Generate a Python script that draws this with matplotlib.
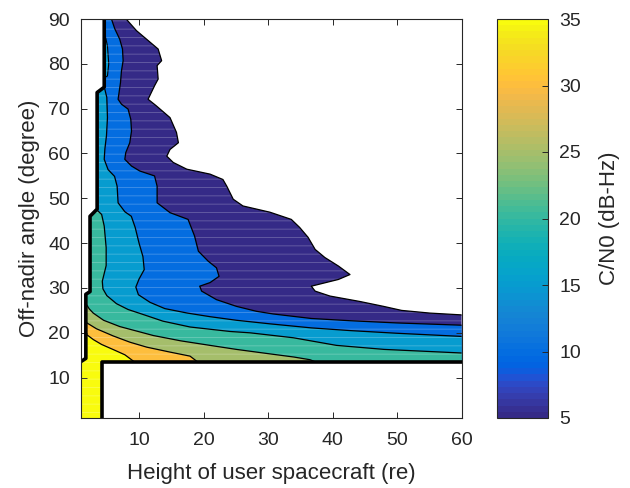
import matplotlib
matplotlib.use("Agg")
import matplotlib.pyplot as plt
from matplotlib.colors import ListedColormap, Normalize
from matplotlib.patches import Polygon
from matplotlib.cm import ScalarMappable

plt.rcParams['font.family'] = ['Liberation Sans', 'DejaVu Sans']
plt.rcParams['hatch.linewidth'] = 0.7

# 64-entry parula colormap
PARULA = [
    [0.2081, 0.1663, 0.5292], [0.2116, 0.1898, 0.5777], [0.2123, 0.2138, 0.6270], [0.2081, 0.2386, 0.6771],
    [0.1959, 0.2645, 0.7279], [0.1707, 0.2919, 0.7792], [0.1253, 0.3242, 0.8303], [0.0591, 0.3598, 0.8683],
    [0.0117, 0.3875, 0.8820], [0.0060, 0.4086, 0.8828], [0.0165, 0.4266, 0.8786], [0.0329, 0.4430, 0.8720],
    [0.0498, 0.4586, 0.8641], [0.0629, 0.4737, 0.8554], [0.0723, 0.4887, 0.8467], [0.0779, 0.5040, 0.8384],
    [0.0793, 0.5200, 0.8312], [0.0749, 0.5375, 0.8263], [0.0641, 0.5570, 0.8240], [0.0488, 0.5772, 0.8228],
    [0.0343, 0.5966, 0.8199], [0.0265, 0.6137, 0.8135], [0.0239, 0.6287, 0.8038], [0.0231, 0.6418, 0.7913],
    [0.0228, 0.6535, 0.7768], [0.0267, 0.6642, 0.7607], [0.0384, 0.6743, 0.7436], [0.0590, 0.6838, 0.7254],
    [0.0843, 0.6928, 0.7062], [0.1133, 0.7015, 0.6859], [0.1453, 0.7098, 0.6646], [0.1801, 0.7177, 0.6424],
    [0.2178, 0.7250, 0.6193], [0.2586, 0.7317, 0.5954], [0.3022, 0.7376, 0.5712], [0.3482, 0.7424, 0.5473],
    [0.3953, 0.7459, 0.5244], [0.4420, 0.7481, 0.5033], [0.4871, 0.7491, 0.4840], [0.5300, 0.7491, 0.4661],
    [0.5709, 0.7485, 0.4494], [0.6099, 0.7473, 0.4337], [0.6473, 0.7456, 0.4188], [0.6834, 0.7435, 0.4044],
    [0.7184, 0.7411, 0.3905], [0.7525, 0.7384, 0.3768], [0.7858, 0.7356, 0.3633], [0.8185, 0.7327, 0.3498],
    [0.8507, 0.7299, 0.3360], [0.8824, 0.7274, 0.3217], [0.9139, 0.7258, 0.3063], [0.9450, 0.7261, 0.2886],
    [0.9739, 0.7314, 0.2666], [0.9938, 0.7455, 0.2403], [0.9990, 0.7653, 0.2164], [0.9955, 0.7861, 0.1967],
    [0.9880, 0.8066, 0.1794], [0.9789, 0.8271, 0.1633], [0.9697, 0.8481, 0.1475], [0.9626, 0.8705, 0.1309],
    [0.9589, 0.8949, 0.1132], [0.9598, 0.9218, 0.0948], [0.9661, 0.9514, 0.0755], [0.9763, 0.9831, 0.0538],
]

# C/N0 contour levels (dB-Hz)
levels = [5, 10, 15, 20, 25, 30, 35]

# Contour lines: height (re) and off-nadir angle (deg) along each level
c05_h = [8.0, 9.6, 12.96, 13.5, 12.8, 12.96, 12.4, 11.4, 12.7, 14.8, 15.8, 16.1, 14.8, 14.3, 15.3, 17.4,
         21.0, 23.0, 23.6, 24.6, 26.1, 30.3, 33.6, 34.9, 36.2, 37.3, 38.8, 40.9, 42.7, 40.9, 36.7, 37.3,
         39.6, 44.2, 47.9, 50.7, 55.1, 60.0]
c05_a = [90.0, 87.4, 83.3, 80.7, 79.6, 76.6, 75.1, 72.1, 70.6, 68.0, 64.7, 62.4, 60.9, 59.4, 58.0, 56.5,
         55.4, 54.2, 52.7, 49.8, 48.3, 46.9, 45.3, 43.5, 41.3, 38.6, 36.8, 34.9, 33.0, 31.9, 30.4, 29.3,
         28.2, 27.0, 25.9, 25.0, 24.4, 24.0]

c10_h = [5.72, 6.24, 7.0, 7.43, 7.53, 7.27, 7.12, 6.9, 6.75, 7.27, 8.3, 8.72, 8.83, 8.56, 7.94, 7.79,
         8.83, 10.1, 12.4, 12.8, 12.8, 14.8, 17.6, 18.6, 19.2, 20.7, 22.0, 22.4, 21.0, 19.4, 19.7, 22.0,
         25.1, 28.2, 30.8, 36.7, 42.7, 50.0, 60.0]
c10_a = [90.0, 87.8, 85.5, 83.3, 80.7, 78.4, 75.8, 73.6, 72.1, 71.0, 69.9, 67.6, 65.0, 62.4, 60.2, 58.7,
         57.2, 56.1, 55.0, 52.7, 49.0, 46.8, 45.3, 41.6, 38.2, 36.0, 34.5, 32.6, 31.2, 30.4, 29.3, 27.4,
         25.9, 24.8, 24.2, 23.2, 22.7, 22.2, 21.7]

c15_h = [4.7, 5.0, 5.1, 4.95, 4.7, 4.6, 5.2, 6.2, 6.6, 6.75, 7.8, 8.8, 9.4, 10.0, 10.6, 10.8, 10.0, 9.5,
         9.9, 11.7, 14.0, 17.5, 21.0, 25.1, 30.3, 36.7, 42.7, 50.0, 60.0]
c15_a = [74.3, 72.5, 68.0, 64.0, 61.0, 58.7, 56.4, 54.9, 52.7, 49.0, 47.0, 46.0, 43.5, 40.0, 37.0, 34.1,
         32.0, 30.2, 28.5, 26.8, 25.4, 24.4, 23.6, 22.8, 22.0, 21.1, 20.5, 19.9, 19.2]

# small closed C/N0 = 15 island near the top of the left edge
isl15_h = [4.6, 4.75, 5.1, 5.3, 5.1, 4.75, 4.6]
isl15_a = [86.5, 86.3, 84.0, 80.0, 77.3, 77.0, 77.0]

c20_h = [3.4, 4.2, 4.6, 4.9, 4.9, 4.3, 4.4, 5.0, 6.5, 8.3, 10.4, 13.7, 17.9, 24.1, 27.2, 33.9, 40.6,
         48.0, 60.0]
c20_a = [47.5, 46.4, 43.8, 39.0, 35.0, 31.5, 29.8, 28.3, 26.5, 25.2, 24.2, 22.6, 21.3, 20.3, 20.0, 18.9,
         17.2, 16.3, 15.5]

c25_h = [1.75, 2.3, 2.9, 4.5, 7.0, 9.6, 12.2, 16.5, 21.0, 25.1, 30.3, 34.0, 36.5, 37.2]
c25_a = [26.5, 25.3, 24.4, 22.8, 21.4, 20.4, 19.4, 18.2, 17.2, 16.3, 15.3, 14.6, 14.0, 13.6]

c30_h = [1.7, 3.4, 6.0, 8.6, 11.2, 14.8, 17.9, 19.0]
c30_a = [22.4, 20.9, 19.3, 17.9, 16.8, 15.7, 14.8, 13.6]

c35_h = [1.7, 2.9, 4.2, 6.1, 7.8, 9.2]
c35_a = [19.8, 18.5, 17.4, 16.2, 15.1, 13.6]

# Edge of the valid (non-NaN) region
edge_left_h = [4.6, 4.6, 3.5, 3.5, 2.4, 2.4, 1.75, 1.75, 1.0]
edge_left_a = [90.0, 74.8, 73.6, 47.6, 46.0, 29.2, 28.6, 14.3, 13.6]
edge_low_h = [4.3, 4.3, 60.0]
edge_low_a = [1.0, 13.6, 13.6]

X_LO, X_HI, Y_LO, Y_HI = 1, 60, 1, 90

cmap = ListedColormap(PARULA, name='parula')
norm = Normalize(vmin=5, vmax=35)

fig = plt.figure(figsize=(6.30, 4.88), dpi=100)
ax = fig.add_axes([81 / 630, (488 - 418) / 488, (461.6 - 81) / 630, 399 / 488])
ax.set_xlim(X_LO, X_HI)
ax.set_ylim(Y_LO, Y_HI)

# valid region used to clip the filled bands
domain_pts = [(1.0, 1.0), (4.3, 1.0), (4.3, 13.6), (60.0, 13.6), (60.0, 90.0)] + \
    list(zip(edge_left_h, edge_left_a))
domain = Polygon(domain_pts, closed=True, facecolor='none', edgecolor='none')
ax.add_patch(domain)


def region(h, a):
    """Polygon for everything on the high-C/N0 side of a contour line."""
    pts = [(-10, -10)]
    if a[0] >= Y_HI:
        pts += [(-10, 100), (h[0], 100)]
    else:
        pts += [(-10, a[0])]
    pts += list(zip(h, a))
    if h[-1] >= X_HI:
        pts += [(70, a[-1]), (70, -10)]
    else:
        pts += [(h[-1], -10)]
    return pts


contours = [(c05_h, c05_a), (c10_h, c10_a), (c15_h, c15_a), (c20_h, c20_a),
            (c25_h, c25_a), (c30_h, c30_a), (c35_h, c35_a)]

for lev, (h, a) in zip(levels, contours):
    face = cmap(norm(lev))
    p = Polygon(region(h, a), closed=True, facecolor=face, edgecolor='none', zorder=1)
    ax.add_patch(p)
    p.set_clip_path(domain)
    if lev == 15:
        isl = Polygon(list(zip(isl15_h, isl15_a)), closed=True, facecolor=face,
                      edgecolor='black', linewidth=0.8, zorder=2)
        ax.add_patch(isl)
        isl.set_clip_path(domain)

# faint horizontal seams across the filled area
seams = Polygon(region(c05_h, c05_a), closed=True, facecolor='none',
                edgecolor=(1, 1, 1, 0.22), linewidth=0, hatch='--', zorder=2.5)
ax.add_patch(seams)
seams.set_clip_path(domain)

for h, a in contours:
    ln, = ax.plot(h, a, color='black', linewidth=0.9, zorder=3)
    ln.set_clip_path(domain)

ax.plot(edge_left_h, edge_left_a, color='black', linewidth=2.6, zorder=4,
        solid_joinstyle='round', solid_capstyle='butt')
ax.plot(edge_low_h, edge_low_a, color='black', linewidth=2.6, zorder=4,
        solid_joinstyle='round', solid_capstyle='butt')

ink = '#262626'
ax.set_xticks([10, 20, 30, 40, 50, 60])
ax.set_yticks([10, 20, 30, 40, 50, 60, 70, 80, 90])
ax.tick_params(direction='in', top=True, right=True, length=4, width=0.7,
               colors=ink, labelsize=14)
ax.tick_params(axis='x', pad=10)
ax.tick_params(axis='y', pad=8)
for s in ax.spines.values():
    s.set_color(ink)
    s.set_linewidth(0.8)
    s.set_zorder(5)
ax.set_xlabel('Height of user spacecraft (re)', fontsize=16, color=ink, labelpad=10)
ax.set_ylabel('Off-nadir angle (degree)', fontsize=16, color=ink, labelpad=6)

cax = fig.add_axes([497 / 630, (488 - 418) / 488, 51 / 630, 399 / 488])
sm = ScalarMappable(norm=norm, cmap=cmap)
cb = fig.colorbar(sm, cax=cax, ticks=levels)
cb.outline.set_edgecolor(ink)
cb.outline.set_linewidth(0.8)
cb.ax.tick_params(direction='in', length=4, width=0.7, colors=ink, labelsize=14, pad=8)
cb.set_label('C/N0 (dB-Hz)', fontsize=16, color=ink, labelpad=13)

fig.savefig('out.png', dpi=100, facecolor='white')
